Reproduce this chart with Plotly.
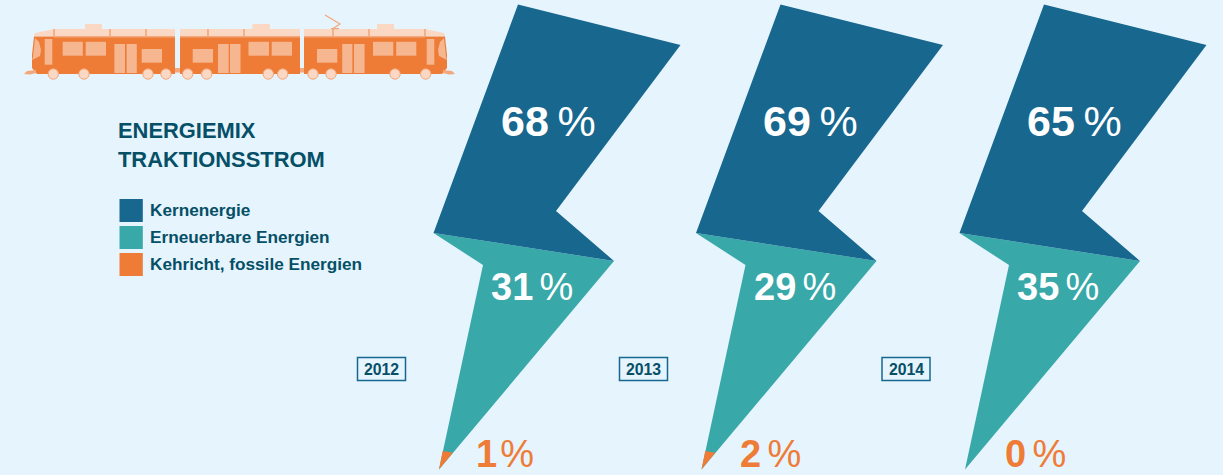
import plotly.graph_objects as go

# Energy mix of traction power, percent per year
years = ["2012", "2013", "2014"]
kernenergie = [68, 69, 65]
erneuerbar = [31, 29, 35]
kehricht = [1, 2, 0]
legend_labels = ["Kernenergie", "Erneuerbare Energien", "Kehricht, fossile Energien"]
title_lines = ["ENERGIEMIX", "TRAKTIONSSTROM"]

BG = "#E5F4FD"
BLUE = "#17678F"
TEAL = "#38A8A9"
ORANGE = "#EF7C36"
INK = "#054F67"
TRAIN_PALE = "#F5B690"
TRAIN_ROOF = "#FAD8C4"
TRAIN_EDGE = "#F3A77B"

# Lightning bolt outline, pieces share their edges
BOLT_UPPER = [(518, 4.5), (680.5, 45), (556, 211), (614, 261), (433.5, 233)]
BOLT_MIDDLE = [(433.5, 233), (614, 261), (439, 469.5), (483, 265)]
BOLT_TIP = [(439, 469.5), (442.7, 451), (452.8, 452.8)]
BOLT_STEP = [0, 262.5, 526]
TAG_STEP = [0, 262, 524.5]
LOW_LABEL_X = [505, 770, 1035]

fig = go.Figure()


def polygon(points, dx, color, name):
    xs = [p[0] + dx for p in points] + [points[0][0] + dx]
    ys = [p[1] for p in points] + [points[0][1]]
    fig.add_trace(go.Scatter(x=xs, y=ys, mode="lines", fill="toself", fillcolor=color,
                             line=dict(width=0, color=color), hoverinfo="skip",
                             name=name, showlegend=False))


def note(x, y, text, size, color, anchor="center"):
    fig.add_annotation(x=x, y=y, text=text, showarrow=False, xanchor=anchor, yanchor="middle",
                       font=dict(family="Liberation Sans", size=size, color=color),
                       xref="x", yref="y", borderpad=0, borderwidth=0)


THIN = "\u2009"
SIXTH = "\u2006"
HAIR = "\u200a"
for i, year in enumerate(years):
    dx = BOLT_STEP[i]
    polygon(BOLT_MIDDLE, dx, TEAL, "Erneuerbare Energien " + year)
    polygon(BOLT_UPPER, dx, BLUE, "Kernenergie " + year)
    if kehricht[i] > 0:
        polygon(BOLT_TIP, dx, ORANGE, "Kehricht " + year)
    note(548 + dx, 121, f"<b>{kernenergie[i]}</b>{THIN}%", 43, "white")
    note(532 + dx, 287, f"<b>{erneuerbar[i]}</b>{SIXTH}%", 38, "white")
    gap = HAIR if kehricht[i] == 1 else SIXTH
    note(LOW_LABEL_X[i], 453.5, f"<b>{kehricht[i]}</b>{gap}%", 38, ORANGE)
    # year tag
    tx = TAG_STEP[i]
    fig.add_shape(type="rect", x0=357.5 + tx, x1=405.5 + tx, y0=357.5, y1=380.5,
                  line=dict(color=BLUE, width=1.5), fillcolor="rgba(0,0,0,0)")
    note(381.7 + tx, 369, f"<b>{year}</b>", 15.8, INK)

# Heading and legend
note(118, 130.5, f"<b>{title_lines[0]}</b>", 21.9, INK, "left")
note(118, 159.5, f"<b>{title_lines[1]}</b>", 21.9, INK, "left")
for label, color, top in zip(legend_labels, [BLUE, TEAL, ORANGE], [199, 226, 253]):
    fig.add_shape(type="rect", x0=119.5, x1=142.8, y0=top, y1=top + 23,
                  line=dict(width=0), fillcolor=color)
    note(150, top + 11.2, f"<b>{label}</b>", 17.2, INK, "left")


# Tram pictogram built from plain shapes
def rect(x0, y0, x1, y1, color):
    fig.add_shape(type="rect", x0=x0, x1=x1, y0=y0, y1=y1, line=dict(width=0), fillcolor=color)


def path(points, color, closed=True, line_color=None, width=0):
    d = "M " + " L ".join(f"{x},{y}" for x, y in points) + (" Z" if closed else "")
    fig.add_shape(type="path", path=d, fillcolor=color if closed else "rgba(0,0,0,0)",
                  line=dict(width=width, color=line_color or color))


def wheel(cx):
    fig.add_shape(type="circle", x0=cx - 5.2, x1=cx + 5.2, y0=68.8, y1=79.2,
                  fillcolor=TRAIN_ROOF, line=dict(color=TRAIN_EDGE, width=1))


def end_car(m):
    """Driving car; m maps an x of the left car onto the wanted side."""
    path([(m(34), 36.5), (m(175), 36.5), (m(175), 74), (m(37), 74), (m(32), 68), (m(32), 55)], ORANGE)
    path([(m(35), 33), (m(54), 29), (m(175), 29), (m(175), 36), (m(34), 36)], TRAIN_ROOF)
    rect(m(85), 24, m(102), 29, TRAIN_ROOF)
    for x in (54, 110, 146):
        rect(m(x - 0.8), 29, m(x + 0.8), 37, TRAIN_EDGE)
    rect(m(54), 36, m(175), 37.5, TRAIN_EDGE)
    path([(m(33), 57), (m(35), 38), (m(39), 42), (m(41), 50), (m(40), 56), (m(32), 60)], TRAIN_PALE)
    for box in [(44.7, 39, 52.3, 64.7), (62.7, 41.8, 82.8, 55.7), (85.7, 41.8, 106, 55.7),
                (114.4, 44, 125, 73), (126.6, 44, 136.8, 73), (141.7, 49, 162, 62.7)]:
        rect(m(box[0]), box[1], m(box[2]), box[3], TRAIN_PALE)
    path([(m(24), 74), (m(27), 71), (m(36), 70), (m(36), 73), (m(30), 74.5)], TRAIN_EDGE)
    for cx in (53.3, 84, 148, 166):
        wheel(m(cx))


rect(174, 68, 181, 72.5, TRAIN_EDGE)
rect(299, 68, 305, 72.5, TRAIN_EDGE)
end_car(lambda x: x)
end_car(lambda x: 479 - x)

# Middle car
rect(180, 36.5, 300, 74, ORANGE)
rect(180, 29, 300, 36, TRAIN_ROOF)
rect(180, 36, 300, 37.5, TRAIN_EDGE)
rect(252.3, 24, 270, 29, TRAIN_ROOF)
for x in (208, 244):
    rect(x - 0.8, 29, x + 0.8, 37, TRAIN_EDGE)
for box in [(192.7, 49, 213, 62.7), (218, 44, 228.7, 73), (230, 44, 240.5, 73),
            (248.5, 41.8, 269, 55.7), (271.7, 41.8, 292, 55.7)]:
    rect(*box, TRAIN_PALE)
for cx in (187.7, 206.7, 268.3, 282.7):
    wheel(cx)

# Pantograph
path([(325, 15), (340, 24), (333, 28.5)], "", closed=False, line_color=TRAIN_EDGE, width=1.2)
rect(331, 28, 339, 29.2, TRAIN_EDGE)

fig.update_layout(
    width=1223, height=475, margin=dict(l=0, r=0, t=0, b=0),
    paper_bgcolor=BG, plot_bgcolor=BG, showlegend=False,
    xaxis=dict(range=[0, 1223], visible=False, fixedrange=True),
    yaxis=dict(range=[475, 0], visible=False, fixedrange=True),
)
fig.write_html("out.html", config={"displayModeBar": False})
